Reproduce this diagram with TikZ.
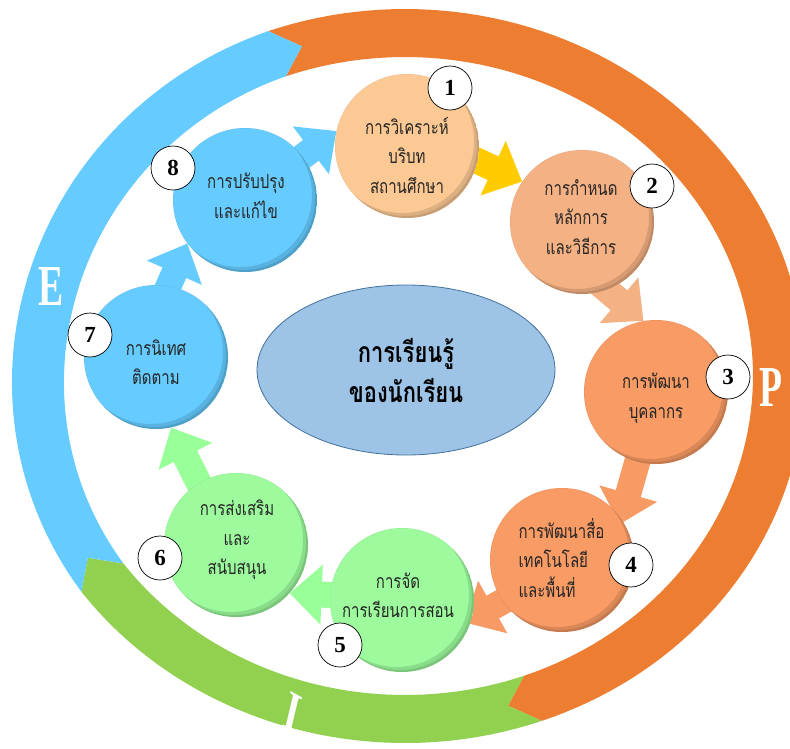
\documentclass[tikz,border=0pt]{standalone}
\usepackage{fontspec}
\setmainfont{Liberation Serif}
\newfontfamily\thaifont[Script=Thai,FakeStretch=0.77]{Loma}
\usetikzlibrary{arrows.meta,shapes.geometric}
\pgfdeclarelayer{back}
\pgfdeclarelayer{flows}
\pgfsetlayers{back,flows,main}

\definecolor{ringorange}{HTML}{ED7D31}
\definecolor{ringgreen}{HTML}{92D050}
\definecolor{ringblue}{HTML}{66CCFF}
\definecolor{peach}{HTML}{FCC994}
\definecolor{salmon}{HTML}{F4B183}
\definecolor{orng}{HTML}{F99B65}
\definecolor{lgreen}{HTML}{9DFB9D}
\definecolor{lblue}{HTML}{66CCFF}
\definecolor{ellfill}{HTML}{9DC3E6}
\definecolor{elldraw}{HTML}{41719C}
\definecolor{yel}{HTML}{FFCC00}
\definecolor{arrorange}{HTML}{F79A64}
\definecolor{arrgreen}{HTML}{99FF99}

\def\rcx{405}\def\rcy{376}
\def\rao{400}\def\rbo{367}
\def\rai{348}\def\rbi{319}
\def\ram{374}\def\rbm{343}

% ring segment: colour, start angle, end angle, left-side indent
\newcommand\ringseg[4]{%
  \fill[#1] plot[domain=#2:#3,samples=100] ({\rcx+\rao*cos(\x)+#4*max(0,sin((\x-144)/106*180))},{\rcy+\rbo*sin(\x)})
   -- ({\rcx+\ram*cos(#3+4)},{\rcy+\rbm*sin(#3+4)})
   -- plot[domain=#3:#2,samples=100] ({\rcx+\rai*cos(\x)+#4*max(0,sin((\x-144)/106*180))},{\rcy+\rbi*sin(\x)})
   -- ({\rcx+\ram*cos(#2+4)},{\rcy+\rbm*sin(#2+4)}) -- cycle;}

\newcommand\bevelon[2]{%
  \begin{scope}
    \clip (#1.center) circle (#2);
    \fill[black, opacity=.10, even odd rule] (#1.center) circle (#2) ([shift={(-2,-2)}]#1.center) circle (#2);
    \fill[black, opacity=.12, even odd rule] (#1.center) circle (#2) ([shift={(-5,-5)}]#1.center) circle (#2);
  \end{scope}}

\tikzset{
  stage/.style={circle, minimum size=144pt, inner sep=0pt, fill=#1},
  badge/.style={circle, draw=black, line width=0.7pt, fill=white, minimum size=44pt, inner sep=0pt,
    font=\bfseries\fontsize{23}{23}\selectfont},
  thai/.style={font=\thaifont\fontsize{19.5}{29.5}\selectfont, align=center, text=black!85},
  flow/.style={line width=26pt, draw=#1, -{Triangle[length=32pt,width=58pt]}, shorten <=-25pt},
  ringletter/.style={font=\bfseries\fontsize{58}{58}\selectfont, text=white, inner sep=0pt, xscale=0.65},
}

\begin{document}
\begin{tikzpicture}[x=1pt,y=-1pt]
\useasboundingbox (0,0) rectangle (790,748);
\clip (0,0) rectangle (790,748);

\begin{pgfonlayer}{back}
  \ringseg{ringorange}{250}{430}{0}
  \ringseg{ringgreen}{70}{144}{0}
  \ringseg{ringblue}{144}{250}{8}
\end{pgfonlayer}

% ring letters
\node[ringletter] (P) at (771,388) {P};
\node[ringletter] (E) at (51,287) {E};
\node[ringletter, rotate=-20] (I) at (293,713) {I};

% stage circles
\node[stage=peach]  (c1) at (407,146) {};
\node[stage=salmon] (c2) at (582,222) {};
\node[stage=orng]   (c3) at (656,392) {};
\node[stage=orng]   (c4) at (562,560) {};
\node[stage=lgreen] (c5) at (402,600) {};
\node[stage=lgreen] (c6) at (236,545) {};
\node[stage=lblue]  (c7) at (156,357) {};
\node[stage=lblue]  (c8) at (245,200) {};
\foreach \n in {c1,c2,c3,c4,c5,c6,c7,c8}{\bevelon{\n}{72}}

% flows
\begin{pgfonlayer}{flows}
  \draw[flow=yel]       (c1.348) -- (c2.146);
  \draw[flow=salmon]    (c2.290) -- (c3.100);
  \draw[flow=arrorange, shorten >=-6pt] (c3.255) -- (c4.35);
  \draw[flow=arrorange, shorten >=-8pt] (c4.215) -- (c5.345);
  \draw[flow=arrgreen]  (c5.176) -- (c6.318);
  \draw[flow=arrgreen]  (c6.121) -- (c7.282);
  \draw[flow=lblue]     (c7.80)  -- (c8.217);
  \draw[flow=lblue]     (c8.37)  -- (c1.168);
\end{pgfonlayer}

% centre
\node[ellipse, draw=elldraw, line width=0.8pt, fill=ellfill, minimum width=298pt, minimum height=170pt,
  font=\thaifont\bfseries\fontsize{28.5}{40}\selectfont, align=center, text=black] (hub) at (406,370)
  {การเรียนรู้\\ของนักเรียน};

% texts
\node[thai] (t1) at (407,155) {การวิเคราะห์\\บริบท\\สถานศึกษา};
\node[thai] (t2) at (581,217) {การกำหนด\\หลักการ\\และวิธีการ};
\node[thai] (t3) at (656,398) {การพัฒนา\\บุคลากร};
\node[thai, align=left, anchor=west] (t4) at (515,558) {การพัฒนาสื่อ\\เทคโนโลยี\\และพื้นที่};
\node[thai] (t5) at (398,595) {การจัด\\การเรียนการสอน};
\node[thai] (t6) at (237,540) {การส่งเสริม\\และ\\สนับสนุน};
\node[thai] (t7) at (156,362) {การนิเทศ\\ติดตาม};
\node[thai] (t8) at (246,196) {การปรับปรุง\\และแก้ไข};

% badges
\node[badge] (b1) at (450,88)  {1};
\node[badge] (b2) at (652,186) {2};
\node[badge] (b3) at (728,377) {3};
\node[badge] (b4) at (631,565) {4};
\node[badge] (b5) at (340,645) {5};
\node[badge] (b6) at (160,558) {6};
\node[badge] (b7) at (90,335)  {7};
\node[badge] (b8) at (173,168) {8};
\end{tikzpicture}
\end{document}
